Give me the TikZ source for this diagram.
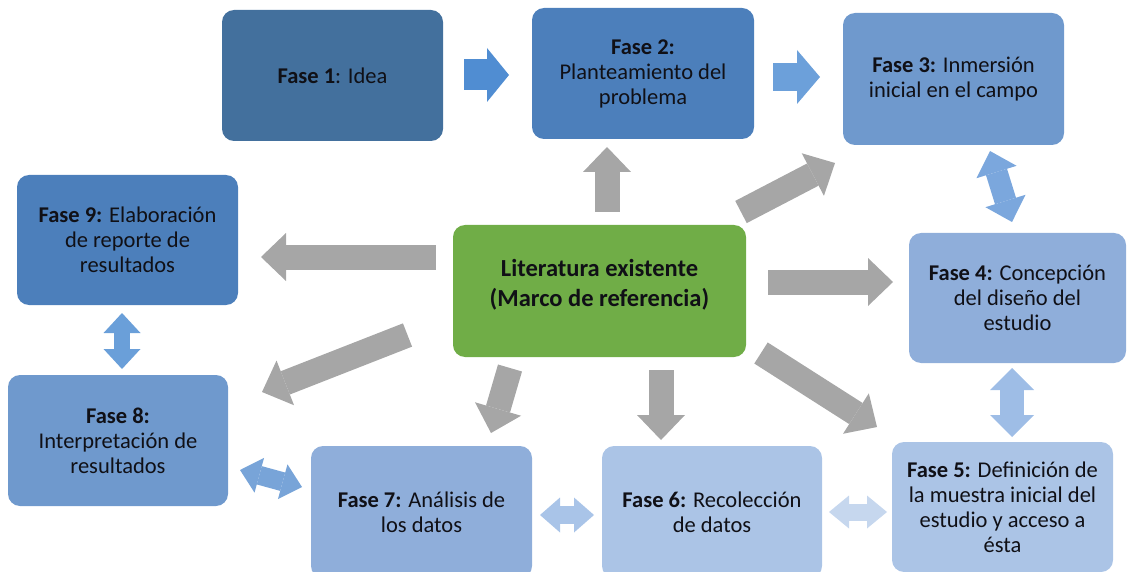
\documentclass[tikz,border=0pt]{standalone}
\usepackage{fontspec}
\setmainfont{Carlito}
\usetikzlibrary{arrows.meta}
\definecolor{cfa}{RGB}{67,112,157}
\definecolor{cfb}{RGB}{76,127,187}
\definecolor{cfc}{RGB}{111,153,205}
\definecolor{cfd}{RGB}{143,174,218}
\definecolor{cfe}{RGB}{171,196,230}
\definecolor{cgreen}{RGB}{112,173,71}
\definecolor{cgray}{RGB}{166,166,166}
\definecolor{ctxt}{RGB}{16,16,22}
\definecolor{ba}{RGB}{80,141,210}
\definecolor{bb}{RGB}{108,160,218}
\definecolor{bc}{RGB}{123,167,221}
\definecolor{bd}{RGB}{158,189,230}
\definecolor{be}{RGB}{198,215,238}
\definecolor{bf}{RGB}{169,196,232}
\definecolor{bg}{RGB}{120,164,216}
\definecolor{bh}{RGB}{106,159,217}
\begin{document}
\begin{tikzpicture}[x=1pt,y=-1pt,
  phase/.style={rounded corners=12pt, align=center, inner sep=0pt, text=ctxt,
    font=\fontsize{22.5}{25}\selectfont},
  garrow/.style={line width=25pt, draw=cgray,
    arrows={-Triangle[length=25pt,width=48pt,line width=0pt]}},
  barrow/.style n args={4}{line width=#1, draw=#4,
    arrows={Triangle[length=#3,width=#2,line width=0pt]-Triangle[length=#3,width=#2,line width=0pt]}},
  sarrow/.style n args={4}{line width=#1, draw=#4,
    arrows={-Triangle[length=#3,width=#2,line width=0pt]}}
]
\useasboundingbox (0,0) rectangle (1127,572);
\clip (0,0) rectangle (1127,572);

% boxes
\node[phase, fill=cfa, minimum width=221pt, minimum height=131pt] (f1) at (332.5,75.5) {\textbf{Fase 1}: Idea};
\node[phase, fill=cfb, minimum width=222pt, minimum height=131pt] (f2) at (643,73.5) {\textbf{Fase 2:}\\Planteamiento del\\problema};
\node[phase, fill=cfc, minimum width=221pt, minimum height=132pt] (f3) at (953.5,79) {\textbf{Fase 3:} Inmersión\\inicial en el campo};
\node[phase, fill=cfb, minimum width=221pt, minimum height=130pt] (f9) at (127.5,240) {\textbf{Fase 9:} Elaboración\\de reporte de\\resultados};
\node[phase, fill=cgreen, minimum width=293pt, minimum height=132pt, text depth=16pt,
  font=\bfseries\fontsize{24.5}{30}\selectfont] (lit) at (599.5,291) {Literatura existente\\(Marco de referencia)};
\node[phase, fill=cfd, minimum width=217pt, minimum height=130pt] (f4) at (1017.5,298) {\textbf{Fase 4:} Concepción\\del diseño del\\estudio};
\node[phase, fill=cfc, minimum width=220pt, minimum height=131pt] (f8) at (118,440.5) {\textbf{Fase 8:}\\Interpretación de\\resultados};
\node[phase, fill=cfd, minimum width=221pt, minimum height=132pt] (f7) at (421.5,512) {\textbf{Fase 7:} Análisis de\\los datos};
\node[phase, fill=cfe, minimum width=220pt, minimum height=132pt] (f6) at (712,512) {\textbf{Fase 6:} Recolección\\de datos};
\node[phase, fill=cfe, minimum width=221pt, minimum height=130pt] (f5) at (1002.5,507) {\textbf{Fase 5:} Definición de\\la muestra inicial del\\estudio y acceso a\\ésta};

% gray arrows from literature
\coordinate (g1s) at (607,212);   \coordinate (g1e) at (607,147);
\coordinate (g2s) at (741,212);   \coordinate (g2e) at (835,163);
\coordinate (g3s) at (768,282);   \coordinate (g3e) at (893,282);
\coordinate (g4s) at (436,257);   \coordinate (g4e) at (261,257);
\coordinate (g5s) at (407.5,335); \coordinate (g5e) at (262,392);
\coordinate (g6s) at (510,368);   \coordinate (g6e) at (491,433);
\coordinate (g7s) at (661,370);   \coordinate (g7e) at (661,440);
\coordinate (g8s) at (761,353);   \coordinate (g8e) at (877,427);
\foreach \i in {1,...,8} {\draw[garrow] (g\i s) -- (g\i e);}

% blue arrows
\coordinate (b1s) at (464,75);  \coordinate (b1e) at (509,75);
\coordinate (b2s) at (773,77);  \coordinate (b2e) at (820,77);
\draw[sarrow={31pt}{54pt}{22pt}{ba}] (b1s) -- (b1e);
\draw[sarrow={28pt}{54pt}{23pt}{bb}] (b2s) -- (b2e);

\coordinate (b3s) at (990,151);  \coordinate (b3e) at (1012,222);
\coordinate (b4s) at (1012,368); \coordinate (b4e) at (1012,437);
\coordinate (b5s) at (829,512);  \coordinate (b5e) at (887,512);
\coordinate (b6s) at (540,515);  \coordinate (b6e) at (594,515);
\coordinate (b7s) at (240,470);  \coordinate (b7e) at (302,487);
\coordinate (b8s) at (122,313);  \coordinate (b8e) at (122,369);
\draw[barrow={22pt}{42pt}{22pt}{bc}] (b3s) -- (b3e);
\draw[barrow={24pt}{44pt}{22pt}{bd}] (b4s) -- (b4e);
\draw[barrow={17pt}{33pt}{20pt}{be}] (b5s) -- (b5e);
\draw[barrow={18pt}{35pt}{20pt}{bf}] (b6s) -- (b6e);
\draw[barrow={19pt}{36pt}{20pt}{bg}] (b7s) -- (b7e);
\draw[barrow={16pt}{37pt}{20pt}{bh}] (b8s) -- (b8e);
\end{tikzpicture}
\end{document}
